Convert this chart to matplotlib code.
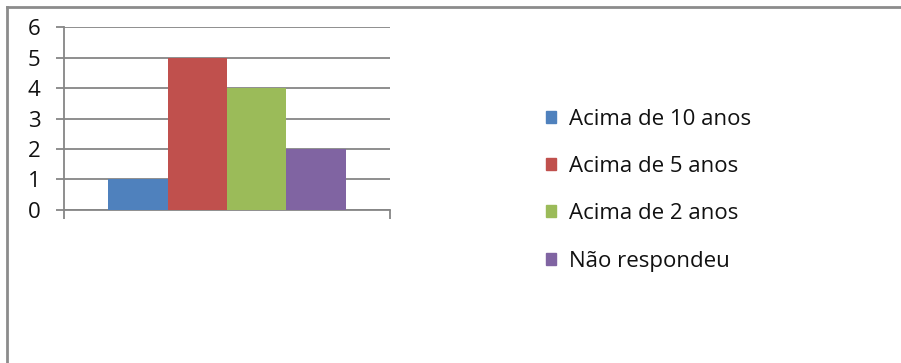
import matplotlib.pyplot as plt
from matplotlib.lines import Line2D
from matplotlib.patches import Patch

plt.rcParams['font.family'] = ['Open Sans', 'DejaVu Sans']

series = ["Acima de 10 anos", "Acima de 5 anos", "Acima de 2 anos", "Não respondeu"]
values = [1, 5, 4, 2]
colors = ["#4F81BD", "#C0504D", "#9BBB59", "#8064A2"]
yticks = [0, 1, 2, 3, 4, 5, 6]

grey = "#868686"

fig = plt.figure(figsize=(9.01, 3.63), dpi=100)
ax = fig.add_axes([0.071, 0.4215, 0.362, 0.5041])

w = 0.182
n = len(values)
for i in range(n):
    xpos = (i - (n - 1) / 2) * w
    ax.bar(xpos, values[i], width=w, color=colors[i], zorder=3)

ax.set_xlim(-0.5, 0.5)
ax.set_ylim(0, 6)
ax.set_yticks(yticks)
ax.set_xticks([-0.5, 0.5])
ax.set_xticklabels([])
ax.yaxis.grid(True, color=grey, linewidth=1.3, zorder=0)
ax.set_axisbelow(True)

for s in ["top", "right"]:
    ax.spines[s].set_visible(False)
for s in ["left", "bottom"]:
    ax.spines[s].set_color(grey)
    ax.spines[s].set_linewidth(1.3)

ax.tick_params(axis="y", length=6, width=1.3, color=grey, pad=11, labelsize=16,
               labelcolor="#111111")
ax.tick_params(axis="x", length=6.5, width=1.3, color=grey)

handles = [Patch(color=c) for c in colors]
fig.legend(handles, series, loc="upper left", bbox_to_anchor=(0.606, 0.70),
           frameon=False, fontsize=16, labelspacing=1.18, handlelength=0.45,
           handleheight=0.45, handletextpad=0.58, borderpad=0, borderaxespad=0,
           labelcolor="#111111")

# outer chart border, top and left edges
fig.add_artist(Line2D([0.0075, 0.0075], [0, 0.98], transform=fig.transFigure,
                      color="#8c8c8c", linewidth=2))
fig.add_artist(Line2D([0.0075, 1.0], [0.98, 0.98], transform=fig.transFigure,
                      color="#8c8c8c", linewidth=2))

fig.savefig("out.png", dpi=100)
